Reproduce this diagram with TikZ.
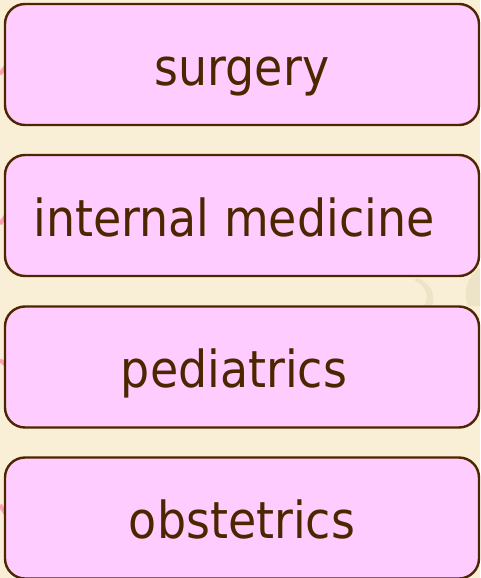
\documentclass[tikz,border=0pt]{standalone}
\usepackage{fontspec}
\setmainfont{DejaVu Sans Condensed}
\definecolor{bg}{HTML}{F8EFD6}
\definecolor{boxpink}{HTML}{FFCCFF}
\definecolor{brown}{HTML}{4D2600}
\definecolor{deco}{HTML}{FFA0B0}
\definecolor{faint}{HTML}{EDE3C6}
\begin{document}
\begin{tikzpicture}[x=1pt,y=1pt,
  itembox/.style={draw=brown, line width=2.4pt, fill=boxpink, rounded corners=20pt,
    minimum width=474pt, minimum height=121pt, inner sep=0pt,
    text height=41pt, text depth=0pt,
    text=brown, font=\fontsize{51}{60}\selectfont},
  peek/.style={draw=deco, line width=4pt}]
\fill[bg] (0,0) rectangle (480,-578);
\useasboundingbox (0,0) rectangle (480,-578);
% faint decoration on the right
\fill[faint] (418,-278) .. controls (432,-285) and (436,-296) .. (432,-306) -- (424,-306) .. controls (430,-296) and (426,-286) .. (414,-280) -- cycle;
\fill[faint] (480,-268) .. controls (468,-275) and (462,-292) .. (468,-306) -- (480,-306) -- cycle;
% pink strokes peeking at the left edge
\draw[peek] (0,-74) -- (7,-65);
\draw[peek] (0,-224) -- (7,-214);
\draw[peek] (0,-360) -- (7,-366);
\draw[peek] (0,-505) -- (7,-516);
\node[itembox] (s) at (242,-64.5) {surgery};
\node[itembox] (im) at (242,-215.5) {internal medicine\hspace*{16pt}};
\node[itembox] (p) at (242,-367) {pediatrics\hspace*{16pt}};
\node[itembox] (o) at (242,-518) {obstetrics};
\end{tikzpicture}
\end{document}
